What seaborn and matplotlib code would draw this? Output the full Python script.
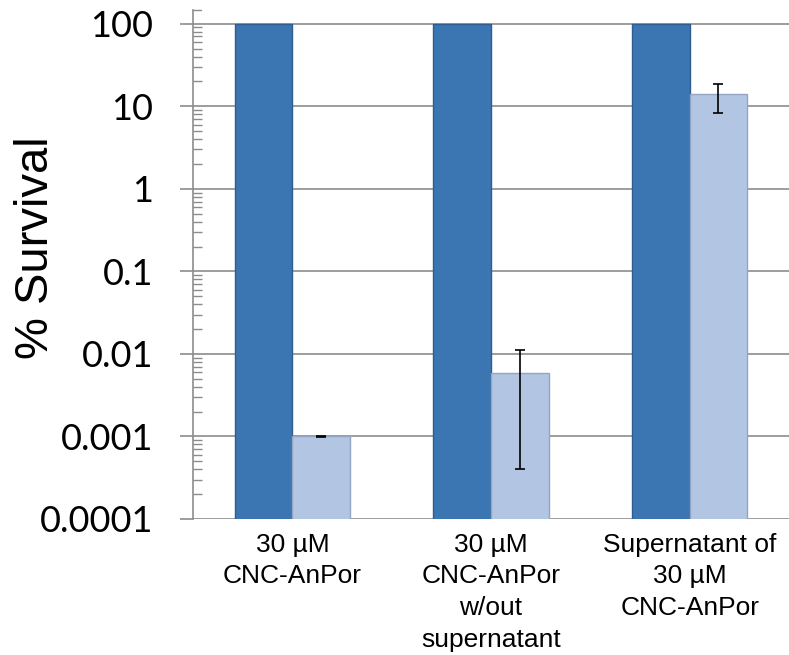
import numpy as np
import pandas as pd
import matplotlib
matplotlib.use("Agg")
import matplotlib.pyplot as plt
import seaborn as sns
from matplotlib.ticker import LogLocator, FixedLocator, FixedFormatter, NullFormatter

categories = ["30 µM\nCNC-AnPor", "30 µM\nCNC-AnPor\nw/out\nsupernatant",
              "Supernatant of\n30 µM\nCNC-AnPor"]
series = ["Control", "Treated"]
control_values = [100, 100, 100]
treated_values = [0.001, 0.0059, 14.0]
treated_err_low = [0.00001, 0.0055, 5.6]
treated_err_high = [0.00001, 0.0054, 4.5]
ytick_values = [0.0001, 0.001, 0.01, 0.1, 1, 10, 100]
ytick_labels = ["0.0001", "0.001", "0.01", "0.1", "1", "10", "100"]

df = pd.DataFrame({
    "cat": categories * 2,
    "series": [series[0]] * 3 + [series[1]] * 3,
    "val": control_values + treated_values,
})

sns.set_style("white")
plt.rcParams["text.color"] = "black"
plt.rcParams["xtick.color"] = "black"
plt.rcParams["ytick.color"] = "black"
plt.rcParams["axes.labelcolor"] = "black"

fig = plt.figure(figsize=(7.89, 6.55), dpi=100)
ax = fig.add_axes([193 / 789, 1 - 519 / 655, (789 - 193) / 789, (519 - 10) / 655])
ax.set_yscale("log")

palette = {"Control": "#3B75B2", "Treated": "#B2C5E2"}
sns.barplot(data=df, x="cat", y="val", hue="series", order=categories,
            hue_order=series, palette=palette, width=0.58, errorbar=None,
            saturation=1, legend=False, ax=ax, linewidth=1.0)

for p in ax.patches:
    fc = p.get_facecolor()
    if fc[2] > 0.85:
        p.set_edgecolor("#93A5C2")
    else:
        p.set_edgecolor("#2E5D8F")

# error bars on treated bars
treated_patches = [p for p in ax.patches if p.get_facecolor()[2] > 0.85]
treated_patches.sort(key=lambda p: p.get_x())
xs = [p.get_x() + p.get_width() / 2 for p in treated_patches]
ax.errorbar(xs, treated_values, yerr=[treated_err_low, treated_err_high],
            fmt="none", ecolor="black", elinewidth=1.2, capsize=3.3,
            capthick=1.2, zorder=5)

ax.set_xlim(-0.5, 2.5)
ax.set_ylim(1e-4, 10 ** 2.166)
ax.yaxis.set_major_locator(FixedLocator(ytick_values))
ax.yaxis.set_major_formatter(FixedFormatter(ytick_labels))
ax.yaxis.set_minor_locator(LogLocator(base=10, subs=np.arange(2, 10)))
ax.yaxis.set_minor_formatter(NullFormatter())

ax.grid(axis="y", which="major", color="#8C8C8C", linewidth=1.2)
ax.grid(axis="y", which="minor", visible=False)
ax.set_axisbelow(True)
for s in ["top", "right", "bottom"]:
    ax.spines[s].set_visible(False)
ax.spines["left"].set_color("#8C8C8C")
ax.spines["left"].set_linewidth(1.2)

ax.tick_params(axis="y", which="major", left=True, direction="out", length=9.5,
               width=1.2, color="#8C8C8C", labelcolor="black", pad=19, labelsize=26)
ax.tick_params(axis="y", which="minor", left=True, direction="in", length=6.5,
               width=1.0, color="#8C8C8C")
ax.tick_params(axis="x", bottom=False, length=0, pad=10, labelsize=19,
               labelcolor="black")
for lab in ax.get_yticklabels():
    lab.set_fontfamily(["Lato", "DejaVu Sans"])
for lab in ax.get_xticklabels():
    lab.set_fontfamily(["Liberation Sans", "DejaVu Sans"])
    lab.set_multialignment("center")
    lab.set_linespacing(1.4)

# small end tick at the top of the value axis
ax.plot([0, 0.013], [1, 1], transform=ax.transAxes, color="#8C8C8C",
        linewidth=1.0, clip_on=False)

ax.set_xlabel("")
ax.set_ylabel("% Survival", fontsize=34, color="black",
              family=["Liberation Sans", "DejaVu Sans"])
ax.yaxis.set_label_coords(-0.227, 0.534)

fig.savefig("out.png", dpi=100)
